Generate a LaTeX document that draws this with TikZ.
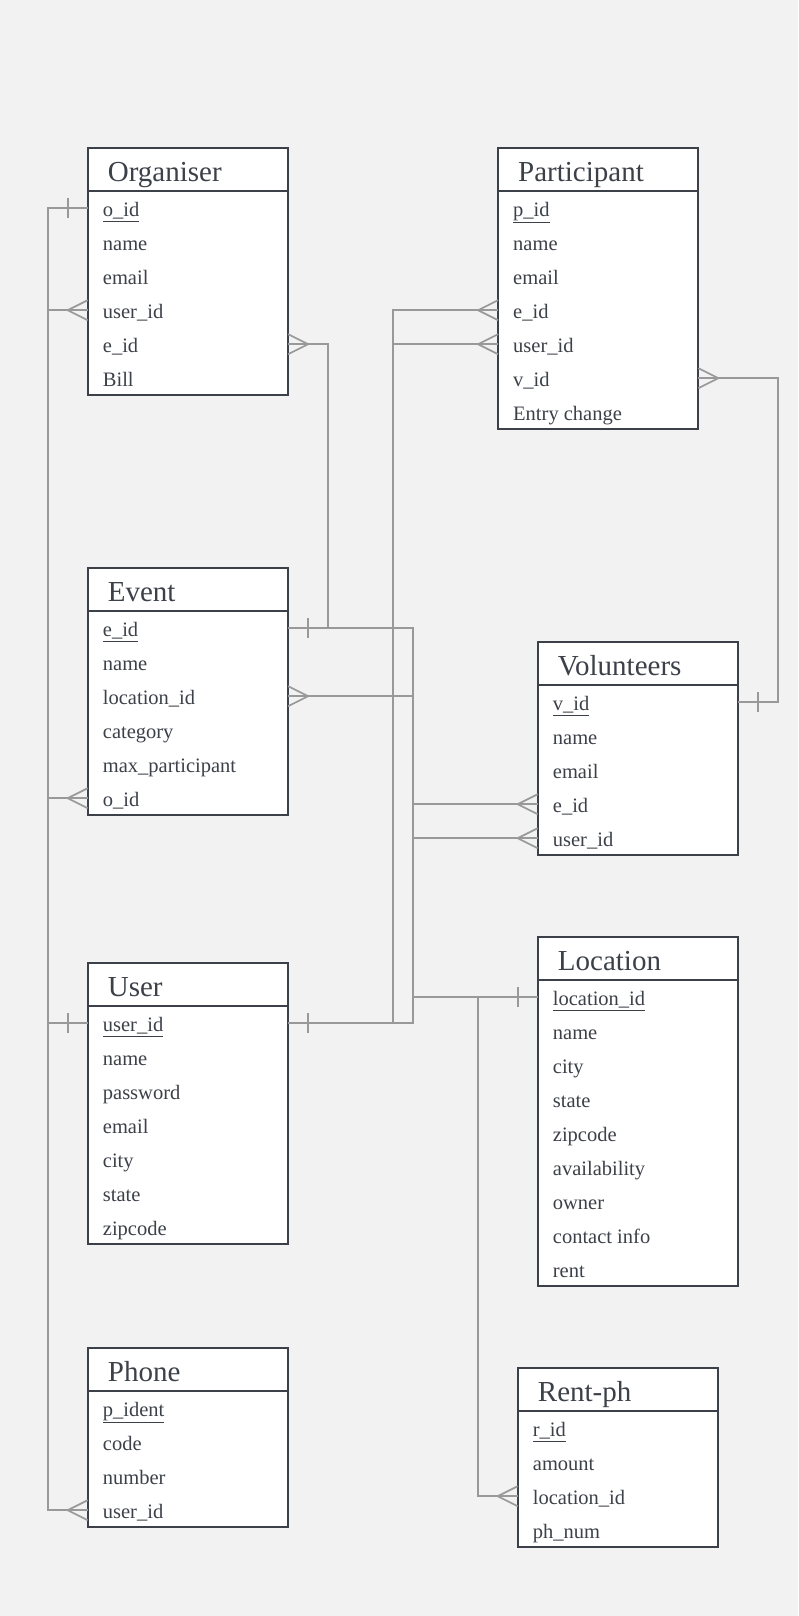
\documentclass[tikz,border=0pt]{standalone}
\usepackage{fontspec}
\setmainfont{Liberation Serif}
\definecolor{bgc}{HTML}{F2F2F2}
\definecolor{ink}{HTML}{3C4048}
\definecolor{lnc}{HTML}{999999}
\tikzset{
  hdrbox/.style={anchor=north west, minimum width=200pt, minimum height=43.3pt, inner sep=0pt, fill=white},
  rowbox/.style={anchor=north west, minimum width=200pt, minimum height=34pt, inner sep=0pt, fill=white},
  hdrtext/.style={anchor=base west, inner sep=0pt, text=ink, font=\fontsize{29}{32}\selectfont},
  rowtext/.style={anchor=base west, inner sep=0pt, text=ink, font=\fontsize{20.5}{24}\selectfont},
  frame/.style={draw=ink, line width=2pt},
  conn/.style={draw=lnc, line width=1.7pt},
}
\newcommand{\ertable}[6]{%
  \node[hdrbox] (#1) at (#2,#3) {};
  \node[hdrtext] (#1-title) at ([xshift=20pt,yshift=-12.3pt]#1.west) {#4};
  \foreach \rk/\rt [count=\ri] in {#6} {
    \node[rowbox] (#1-\rk) at (#2,{#3+43.3+34*(\ri-1)}) {};
    \node[rowtext] (#1-\rk-t) at ([xshift=15pt,yshift=-8.7pt]#1-\rk.west) {\rt};
  }
  \draw[frame] (#2,#3) rectangle ({#2+200},{#3+43.3+34*#5});
  \draw[frame] (#2,{#3+43.3}) -- ({#2+200},{#3+43.3});
}
\newcommand{\crowW}[1]{\draw[conn] ([xshift=-20pt]#1.west) -- ([yshift=10pt]#1.west) ([xshift=-20pt]#1.west) -- ([yshift=-10pt]#1.west);}
\newcommand{\crowE}[1]{\draw[conn] ([xshift=20pt]#1.east) -- ([yshift=10pt]#1.east) ([xshift=20pt]#1.east) -- ([yshift=-10pt]#1.east);}
\newcommand{\tickW}[1]{\draw[conn] ([xshift=-20pt,yshift=10pt]#1.west) -- ([xshift=-20pt,yshift=-10pt]#1.west);}
\newcommand{\tickE}[1]{\draw[conn] ([xshift=20pt,yshift=10pt]#1.east) -- ([xshift=20pt,yshift=-10pt]#1.east);}
\begin{document}
\begin{tikzpicture}[x=1pt,y=-1pt]
\fill[bgc] (0,0) rectangle (798,1616);
\useasboundingbox (0,0) rectangle (798,1616);

\ertable{org}{87.7}{147.7}{Organiser}{6}{oid/\underline{o\_id}, name/name, email/email, uid/user\_id, eid/e\_id, bill/Bill}
\ertable{par}{498}{147.7}{Participant}{7}{pid/\underline{p\_id}, name/name, email/email, eid/e\_id, uid/user\_id, vid/v\_id, entry/Entry change}
\ertable{ev}{87.7}{567.7}{Event}{6}{eid/\underline{e\_id}, name/name, lid/location\_id, cat/category, maxp/max\_participant, oid/o\_id}
\ertable{vol}{537.7}{641.7}{Volunteers}{5}{vid/\underline{v\_id}, name/name, email/email, eid/e\_id, uid/user\_id}
\ertable{usr}{87.7}{962.7}{User}{7}{uid/\underline{user\_id}, name/name, pw/password, email/email, city/city, state/state, zip/zipcode}
\ertable{loc}{537.7}{936.7}{Location}{9}{lid/\underline{location\_id}, name/name, city/city, state/state, zip/zipcode, avail/availability, owner/owner, contact/contact info, rent/rent}
\ertable{ph}{87.7}{1347.7}{Phone}{4}{pident/\underline{p\_ident}, code/code, num/number, uid/user\_id}
\ertable{rp}{517.7}{1367.7}{Rent-ph}{4}{rid/\underline{r\_id}, amount/amount, lid/location\_id, phnum/ph\_num}

\coordinate (xL) at (48.3,0);
\coordinate (xA) at (328,0);
\coordinate (xB) at (392.7,0);
\coordinate (xC) at (413.3,0);
\coordinate (xD) at (478.3,0);
\coordinate (xE) at (778.3,0);

\draw[conn] (org-oid.west) -- (org-oid.west -| xL) -- (ev-oid.west -| xL) -- (ev-oid.west);
\draw[conn] (usr-uid.west) -- (usr-uid.west -| xL) -- (org-uid.west -| xL) -- (org-uid.west);
\draw[conn] (usr-uid.west) -- (usr-uid.west -| xL) -- (ph-uid.west -| xL) -- (ph-uid.west);
\draw[conn] (ev-eid.east) -- (ev-eid.east -| xA) -- (org-eid.east -| xA) -- (org-eid.east);
\draw[conn] (ev-eid.east) -- (ev-eid.east -| xC) -- (vol-eid.west -| xC) -- (vol-eid.west);
\draw[conn] (ev-eid.east) -- (ev-eid.east -| xB) -- (par-eid.west -| xB) -- (par-eid.west);
\draw[conn] (usr-uid.east) -- (usr-uid.east -| xB) -- (par-uid.west -| xB) -- (par-uid.west);
\draw[conn] (usr-uid.east) -- (usr-uid.east -| xC) -- (vol-uid.west -| xC) -- (vol-uid.west);
\draw[conn] (loc-lid.west) -- (loc-lid.west -| xC) -- (ev-lid.east -| xC) -- (ev-lid.east);
\draw[conn] (loc-lid.west) -- (loc-lid.west -| xD) -- (rp-lid.west -| xD) -- (rp-lid.west);
\draw[conn] (vol-vid.east) -- (vol-vid.east -| xE) -- (par-vid.east -| xE) -- (par-vid.east);

\tickW{org-oid} \tickW{usr-uid} \tickE{usr-uid} \tickE{ev-eid} \tickW{loc-lid} \tickE{vol-vid}
\crowW{ev-oid} \crowW{org-uid} \crowW{ph-uid} \crowE{org-eid} \crowW{vol-eid} \crowW{par-eid}
\crowW{par-uid} \crowW{vol-uid} \crowE{ev-lid} \crowW{rp-lid} \crowE{par-vid}
\end{tikzpicture}
\end{document}
